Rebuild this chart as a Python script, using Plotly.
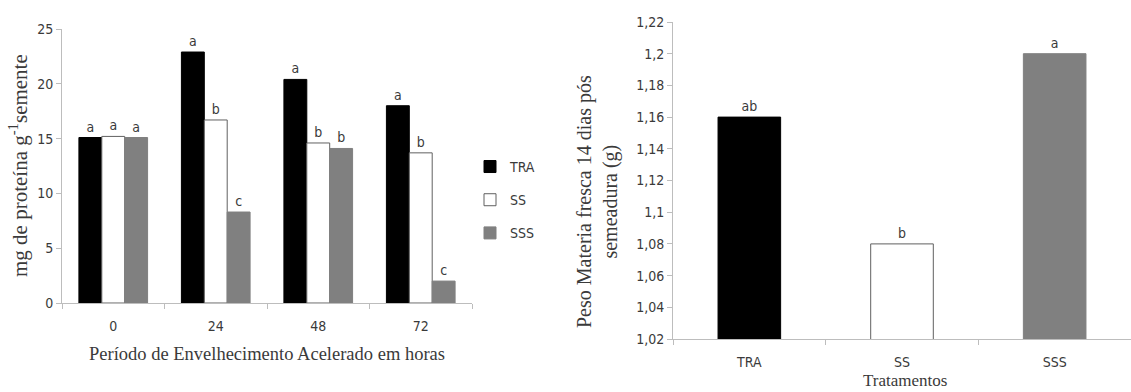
import plotly.graph_objects as go

# ---- Data: left chart (protein content) ----
periods = ["0", "24", "48", "72"]
tra_protein = [15.1, 22.9, 20.4, 18.0]
ss_protein = [15.2, 16.7, 14.6, 13.7]
sss_protein = [15.1, 8.3, 14.1, 2.0]
tra_letters = ["a", "a", "a", "a"]
ss_letters = ["a", "b", "b", "b"]
sss_letters = ["a", "c", "b", "c"]

# ---- Data: right chart (fresh matter) ----
treatments = ["TRA", "SS", "SSS"]
fresh_mass = [1.16, 1.08, 1.20]
fresh_letters = ["ab", "b", "a"]
right_tickvals = [1.02, 1.04, 1.06, 1.08, 1.10, 1.12, 1.14, 1.16, 1.18, 1.20, 1.22]
right_ticktext = ["1,02", "1,04", "1,06", "1,08", "1,1", "1,12", "1,14", "1,16", "1,18", "1,2", "1,22"]

BLACK = "#000000"
WHITE = "#ffffff"
GREY = "#808080"
EDGE = "#606060"
AXIS = "#bdbdbd"
TXT = "#3a3a3a"
SANS = "DejaVu Sans Condensed, Lato, sans-serif"
SERIF = "Liberation Serif, Times New Roman, serif"
W, H = 1131, 392

fig = go.Figure()

for name, vals, letters, fill, line, grp in [
    ("TRA", tra_protein, tra_letters, BLACK, BLACK, "g1"),
    ("SS", ss_protein, ss_letters, WHITE, EDGE, "g2"),
    ("SSS", sss_protein, sss_letters, GREY, GREY, "g3"),
]:
    fig.add_trace(go.Bar(
        x=periods, y=vals, name=name, text=letters,
        textposition="outside", cliponaxis=False,
        textfont=dict(family=SANS, size=14, color=TXT),
        marker=dict(color=fill, line=dict(color=line, width=1)),
        xaxis="x", yaxis="y", legendgroup=grp,
    ))

fig.add_trace(go.Bar(
    x=treatments, y=fresh_mass, text=fresh_letters,
    textposition="outside", cliponaxis=False, width=0.41,
    textfont=dict(family=SANS, size=14, color=TXT),
    marker=dict(color=[BLACK, WHITE, GREY], line=dict(color=[BLACK, EDGE, GREY], width=1)),
    xaxis="x2", yaxis="y2", showlegend=False,
))

axis_common = dict(showline=True, linecolor=AXIS, linewidth=1, showgrid=False,
                   zeroline=False, ticks="outside", tickcolor=AXIS, ticklen=5,
                   tickfont=dict(family=SANS, size=14, color=TXT))

fig.update_layout(
    width=W, height=H,
    margin=dict(l=0, r=0, t=0, b=0, autoexpand=False),
    paper_bgcolor="white", plot_bgcolor="white",
    barmode="group", bargap=0.33, bargroupgap=0,
    showlegend=True,
    legend=dict(x=470/W, y=0.615, xanchor="left", yanchor="top",
                font=dict(family=SANS, size=14, color=TXT),
                tracegroupgap=12, itemwidth=30, bgcolor="rgba(0,0,0,0)"),
    xaxis=dict(domain=[62/W, 472/W], anchor="y", type="category",
               tickson="boundaries", ticklabelstandoff=10, **axis_common),
    yaxis=dict(domain=[1 - 303/H, 1 - 29/H], anchor="x", range=[0, 25], dtick=5,
               **axis_common),
    xaxis2=dict(domain=[673/W, 1.0], anchor="y2", type="category",
                tickson="boundaries", ticklabelstandoff=10, **axis_common),
    yaxis2=dict(domain=[1 - 339/H, 1 - 22/H], anchor="x2", range=[1.02, 1.22],
                tickvals=right_tickvals, ticktext=right_ticktext, **axis_common),
    annotations=[
        dict(text="mg de proteína g<sup>-1</sup>semente", xref="paper", yref="paper",
             x=18/W, y=1 - 166/H, xanchor="center", yanchor="middle",
             textangle=-90, showarrow=False,
             font=dict(family=SERIF, size=21, color=TXT)),
        dict(text="Período de Envelhecimento Acelerado em horas", xref="paper", yref="paper",
             x=267/W, y=1 - 354/H, xanchor="center", yanchor="middle", showarrow=False,
             font=dict(family=SERIF, size=18.5, color=TXT)),
        dict(text="Peso Materia fresca 14 dias pós<br>semeadura (g)", xref="paper", yref="paper",
             x=598/W, y=1 - 202/H, xanchor="center", yanchor="middle",
             textangle=-90, showarrow=False,
             font=dict(family=SERIF, size=20, color=TXT)),
        dict(text="Tratamentos", xref="paper", yref="paper",
             x=905/W, y=1 - 380/H, xanchor="center", yanchor="middle", showarrow=False,
             font=dict(family=SERIF, size=17, color=TXT)),
    ],
)

fig.write_html("out.html", config={"displayModeBar": False},
               post_script="document.body.style.margin='0';document.body.style.overflow='hidden';")
